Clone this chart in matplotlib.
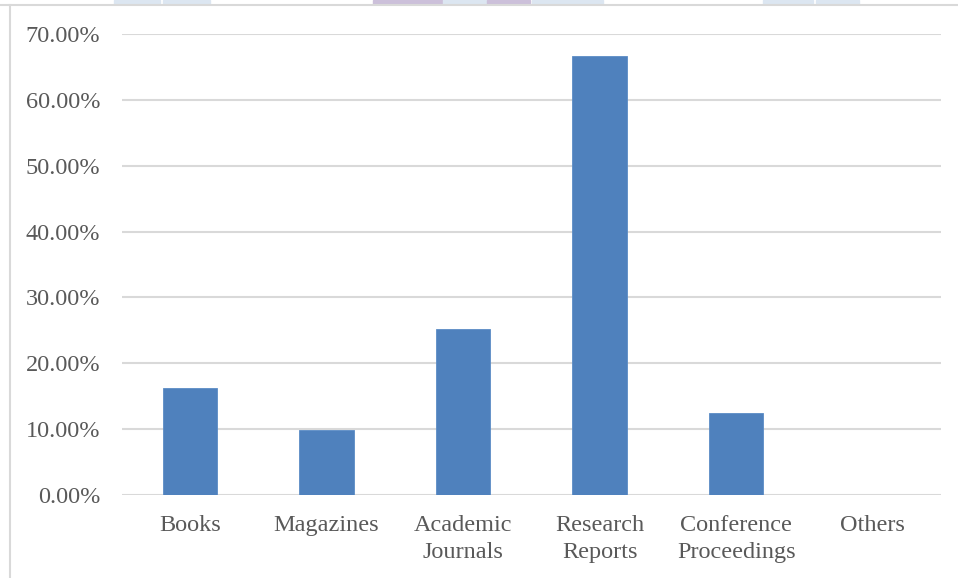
import matplotlib
matplotlib.use("Agg")
import matplotlib.pyplot as plt
from matplotlib.patches import Rectangle
from matplotlib.ticker import FuncFormatter

categories = ["Books", "Magazines", "Academic\nJournals", "Research\nReports",
              "Conference\nProceedings", "Others"]
shares = [0.1625, 0.0985, 0.252, 0.6667, 0.125, 0.0]
yticks = [0.0, 0.1, 0.2, 0.3, 0.4, 0.5, 0.6, 0.7]

W, H = 958, 578
fig = plt.figure(figsize=(W / 100, H / 100), dpi=100)
plt.rcParams['font.family'] = ['Liberation Serif', 'DejaVu Serif']

# leftover table cells peeking in at the top edge (pixel coords)
cells = [(114, 160, '#dce6f1'), (163, 210, '#dce6f1'), (373, 442, '#ccc0da'),
         (443, 486, '#dce6f1'), (487, 530, '#ccc0da'), (532, 603, '#dce6f1'),
         (763, 813, '#dce6f1'), (816, 859, '#dce6f1')]
for x0, x1, c in cells:
    fig.patches.append(Rectangle((x0 / W, 1 - 4 / H), (x1 - x0) / W, 4 / H,
                                 transform=fig.transFigure, color=c, zorder=0))
# chart frame (top and left visible)
fig.add_artist(plt.Line2D([0, 957 / W], [1 - 4.5 / H, 1 - 4.5 / H],
                          transform=fig.transFigure, color='#d9d9d9', lw=1.5))
fig.add_artist(plt.Line2D([10 / W, 10 / W], [0, 1 - 4.5 / H],
                          transform=fig.transFigure, color='#d9d9d9', lw=1.5))

ax = fig.add_axes([121.7 / W, 1 - 495 / H, (941 - 121.7) / W, (495 - 34) / H])
x = range(len(categories))
ax.bar(x, shares, width=0.4, color='#4f81bd', edgecolor='#5b8cc6', lw=0.6, zorder=3)

ax.set_xlim(-0.5, len(categories) - 0.5)
ax.set_ylim(0, 0.7)
ax.set_yticks(yticks)
ax.yaxis.set_major_formatter(FuncFormatter(lambda v, p: f"{v * 100:.2f}%"))
ax.set_xticks(list(x))
ax.set_xticklabels(categories, linespacing=1.37)
ax.grid(axis='y', color='#d9d9d9', lw=1.5, zorder=0)
for s in ax.spines.values():
    s.set_visible(False)
ax.tick_params(axis='both', length=0, labelsize=17.5, colors='#595959')
ax.tick_params(axis='y', pad=15.5)
ax.tick_params(axis='x', pad=14.5)

fig.savefig("out.png", dpi=100)
